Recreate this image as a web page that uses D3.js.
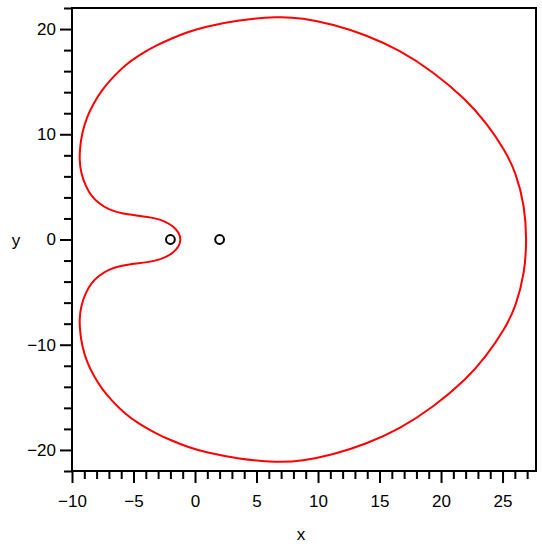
<!DOCTYPE html>
<html>
<head>
<meta charset="utf-8">
<script src="https://cdn.jsdelivr.net/npm/d3@7.9.0/dist/d3.min.js"></script>
<style>
  body { margin: 0; background: #fff; }
  svg { display: block; font-family: "Liberation Sans", Arial, sans-serif; }
</style>
</head>
<body>
<div id="chart"></div>
<script>
// curve points (x, y), going round from the right
const curveX = [26.97, 26.8, 26.1, 25.18, 23.69, 22.07, 19.35, 16.64, 13.93, 11.22, 8.7, 6.7, 3.53, 0.82, -0.53, -1.89, -3.23, -4.58, -5.67, -6.75, -7.56, -8.24, -8.78, -9.19, -9.35, -9.40, -9.27, -8.89, -8.40, -7.85, -7.04, -5.96, -4.6, -3.25, -2.44, -1.76, -1.30, -1.14,
  -1.30, -1.76, -2.44, -3.25, -4.6, -5.96, -7.04, -7.85, -8.40, -8.89, -9.27, -9.40, -9.35, -9.19, -8.78, -8.24, -7.56, -6.75, -5.67, -4.58, -3.23, -1.89, -0.53, 0.82, 3.53, 6.7, 8.7, 11.22, 13.93, 16.64, 19.35, 22.07, 23.69, 25.18, 26.1, 26.8];
const curveY = [0, 3.16, 6.32, 8.53, 11.06, 13.27, 15.95, 18.0, 19.43, 20.45, 21.05, 21.2, 20.85, 20.22, 19.75, 19.12, 18.4, 17.5, 16.59, 15.33, 14.22, 12.96, 11.69, 10.11, 8.7, 7.58, 6.32, 5.05, 4.1, 3.48, 2.84, 2.46, 2.27, 2.05, 1.73, 1.26, 0.63, 0,
  -0.63, -1.26, -1.73, -2.05, -2.27, -2.46, -2.84, -3.48, -4.1, -5.05, -6.32, -7.58, -8.7, -10.11, -11.69, -12.96, -14.22, -15.33, -16.59, -17.5, -18.4, -19.12, -19.75, -20.22, -20.85, -21.2, -21.05, -20.45, -19.43, -18.0, -15.95, -13.27, -11.06, -8.53, -6.32, -3.16];

// the two small circles
const pointX = [-2, 2];
const pointY = [0, 0];

const xMajor = [-10, -5, 0, 5, 10, 15, 20, 25];
const yMajor = [-20, -10, 0, 10, 20];

const width = 542, height = 550;
const margin = { top: 8, right: 6, bottom: 79, left: 72 };

const svg = d3.select('#chart').append('svg')
  .attr('width', width)
  .attr('height', height);

const xScale = d3.scaleLinear()
  .domain([-10, 27.72])
  .range([margin.left, width - margin.right]);

const yScale = d3.scaleLinear()
  .domain([-22, 22])
  .range([height - margin.bottom, margin.top]);

const fmt = (d) => (d < 0 ? '\u2212' + Math.abs(d) : String(d));

// minor ticks
const xMinor = d3.range(-10, 28, 1).filter((d) => !xMajor.includes(d));
const yMinor = d3.range(-22, 23, 2).filter((d) => !yMajor.includes(d));

svg.append('g')
  .attr('transform', `translate(0,${height - margin.bottom})`)
  .call(d3.axisBottom(xScale).tickValues(xMinor).tickSize(8).tickFormat(''))
  .call((g) => g.select('.domain').remove())
  .call((g) => g.selectAll('line').attr('stroke', '#000').attr('stroke-width', 2));

svg.append('g')
  .attr('transform', `translate(0,${height - margin.bottom})`)
  .call(d3.axisBottom(xScale).tickValues(xMajor).tickSize(12).tickPadding(12).tickFormat(fmt))
  .call((g) => g.select('.domain').remove())
  .call((g) => g.selectAll('line').attr('stroke', '#000').attr('stroke-width', 2))
  .call((g) => g.selectAll('text').attr('font-size', 17).attr('fill', '#000')
    .attr('font-family', '"Liberation Sans", Arial, sans-serif'));

svg.append('g')
  .attr('transform', `translate(${margin.left},0)`)
  .call(d3.axisLeft(yScale).tickValues(yMinor).tickSize(8).tickFormat(''))
  .call((g) => g.select('.domain').remove())
  .call((g) => g.selectAll('line').attr('stroke', '#000').attr('stroke-width', 2));

svg.append('g')
  .attr('transform', `translate(${margin.left},0)`)
  .call(d3.axisLeft(yScale).tickValues(yMajor).tickSize(12).tickPadding(4).tickFormat(fmt))
  .call((g) => g.select('.domain').remove())
  .call((g) => g.selectAll('line').attr('stroke', '#000').attr('stroke-width', 2))
  .call((g) => g.selectAll('text').attr('font-size', 17).attr('fill', '#000')
    .attr('font-family', '"Liberation Sans", Arial, sans-serif'));

// frame
svg.append('rect')
  .attr('x', margin.left)
  .attr('y', margin.top)
  .attr('width', width - margin.left - margin.right)
  .attr('height', height - margin.top - margin.bottom)
  .attr('fill', 'none')
  .attr('stroke', '#000')
  .attr('stroke-width', 2);

// the curve
const pts = curveX.map((x, i) => [x, curveY[i]]);
const line = d3.line()
  .x((d) => xScale(d[0]))
  .y((d) => yScale(d[1]))
  .curve(d3.curveBasisClosed);

svg.append('path')
  .datum(pts)
  .attr('d', line)
  .attr('fill', 'none')
  .attr('stroke', '#ff0000')
  .attr('stroke-width', 2);

svg.append('g')
  .selectAll('circle')
  .data(pointX)
  .join('circle')
  .attr('cx', (d) => xScale(d))
  .attr('cy', (d, i) => yScale(pointY[i]))
  .attr('r', 4.4)
  .attr('fill', 'none')
  .attr('stroke', '#000')
  .attr('stroke-width', 2);

// axis titles
svg.append('text')
  .attr('x', 301)
  .attr('y', 540)
  .attr('text-anchor', 'middle')
  .attr('font-size', 17)
  .text('x');

svg.append('text')
  .attr('x', 16)
  .attr('y', 246)
  .attr('text-anchor', 'middle')
  .attr('font-size', 17)
  .text('y');
</script>
</body>
</html>
